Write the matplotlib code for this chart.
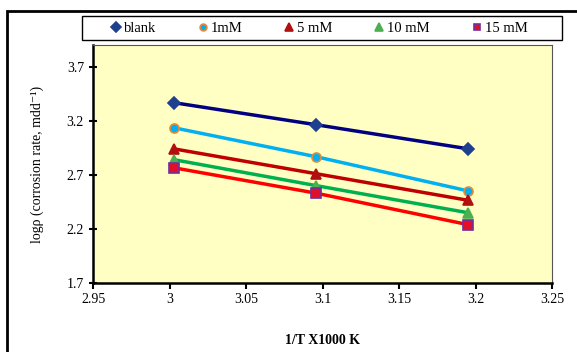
import matplotlib
matplotlib.use('Agg')
import matplotlib.pyplot as plt
from matplotlib.patches import Rectangle

plt.rcParams['font.family'] = ['Liberation Serif', 'DejaVu Serif']

x_vals = [3.003, 3.096, 3.195]
blank = [3.367, 3.163, 2.941]
c1mM = [3.135, 2.867, 2.552]
c5mM = [2.940, 2.710, 2.465]
c10mM = [2.840, 2.600, 2.350]
c15mM = [2.765, 2.530, 2.240]

series = [
    ('blank', blank, '#000080', 'D', '#1F3F8F', '#1F3F8F', 6.5),
    ('1mM', c1mM, '#00B0F0', 'o', '#00B0F0', '#E38B3A', 6.5),
    ('5 mM', c5mM, '#C00000', '^', '#B01010', '#B01010', 7),
    ('10 mM', c10mM, '#00B050', '^', '#4CAF50', '#4CAF50', 7.5),
    ('15 mM', c15mM, '#FF0000', 's', '#E0102A', '#7030A0', 6.5),
]

fig = plt.figure(figsize=(5.77, 3.52), dpi=100)
ax = fig.add_axes([0.1612, 0.196, 0.7955, 0.676])
ax.set_facecolor('#FFFFC4')

handles = []
for name, ys, lc, mk, mfc, mec, ms in series:
    ax.plot(x_vals, ys, '-', color=lc, linewidth=2.5, zorder=2)
    h, = ax.plot(x_vals, ys, linestyle='none', marker=mk, markersize=ms,
                 markerfacecolor=mfc, markeredgecolor=mec, markeredgewidth=1.2,
                 label=name, zorder=3)
    handles.append(h)

ax.set_xlim(2.95, 3.25)
ax.set_ylim(1.7, 3.9)
ax.set_xticks([2.95, 3.0, 3.05, 3.1, 3.15, 3.2, 3.25])
ax.set_xticklabels(['2.95', '3', '3.05', '3.1', '3.15', '3.2', '3.25'])
ax.set_yticks([1.7, 2.2, 2.7, 3.2, 3.7])
ax.tick_params(axis='both', labelsize=10, direction='out', length=4, width=1.5, colors='black')
ax.tick_params(axis='y', direction='inout', length=6)

for side in ['top', 'right']:
    ax.spines[side].set_color('#555555')
    ax.spines[side].set_linewidth(0.8)
for side in ['bottom', 'left']:
    ax.spines[side].set_color('black')
    ax.spines[side].set_linewidth(1.8)

ax.set_xlabel('1/T X1000 K', fontsize=10, fontweight='bold', labelpad=20)
ax.set_ylabel('logρ (corrosion rate, mdd⁻¹)', fontsize=10, labelpad=16)

# legend without its own frame, box drawn separately
fig.legend(handles=handles, loc='center', ncol=5,
           bbox_to_anchor=(318 / 577, 1 - 28 / 352),
           fontsize=10.5, frameon=False, handletextpad=0.05,
           columnspacing=2.7, handlelength=1.0, markerscale=0.75)
fig.patches.append(Rectangle((82 / 577, 1 - 40 / 352), 480 / 577, 24 / 352,
                             transform=fig.transFigure, fill=False,
                             edgecolor='black', linewidth=1.0))

fig.patches.append(Rectangle((7 / 577, -0.1), 1.2, 1 - 11 / 352 + 0.1,
                             transform=fig.transFigure, fill=False,
                             edgecolor='black', linewidth=2.0, zorder=0))

fig.savefig('out.png', dpi=100)
